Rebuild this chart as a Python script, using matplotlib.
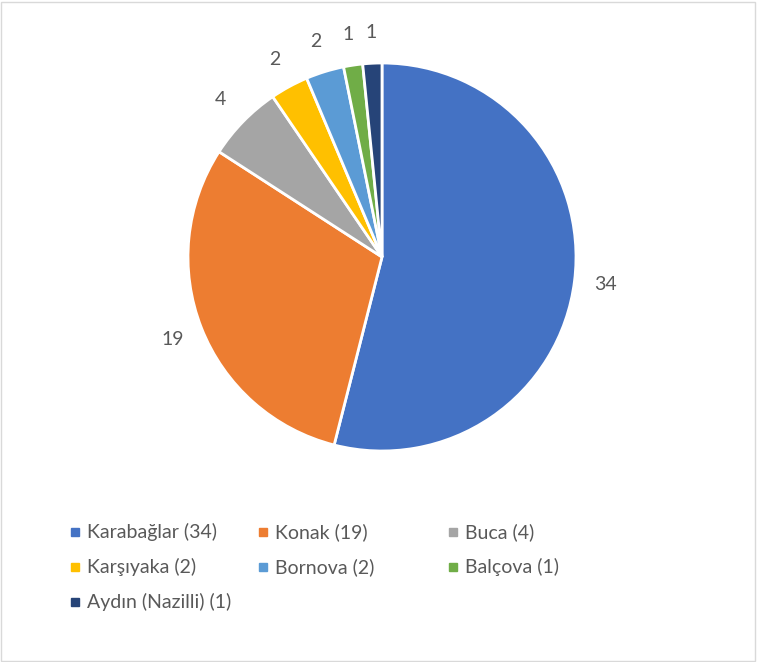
import matplotlib
matplotlib.use("Agg")
import matplotlib.pyplot as plt
from matplotlib.patches import Rectangle

# district counts
districts = ["Karabağlar", "Konak", "Buca", "Karşıyaka", "Bornova", "Balçova", "Aydın (Nazilli)"]
counts = [34, 19, 4, 2, 2, 1, 1]
colors = ["#4472C4", "#ED7D31", "#A5A5A5", "#FFC000", "#5B9BD5", "#70AD47", "#264478"]

W, H = 757, 662
plt.rcParams["font.family"] = ["Lato", "DejaVu Sans"]
text_color = "#595959"

fig = plt.figure(figsize=(W / 100, H / 100), dpi=100)
ax = fig.add_axes([0, 0, 1, 1])

total = sum(counts)
wedges, _, autotexts = ax.pie(
    counts, colors=colors, startangle=90, counterclock=False,
    center=(382, H - 257), radius=194, frame=True,
    autopct=lambda p: f"{round(p * total / 100)}", pctdistance=1.16,
    wedgeprops=dict(edgecolor="white", linewidth=2),
    textprops=dict(color=text_color, fontsize=14),
)
ax.set_xlim(0, W)
ax.set_ylim(0, H)
ax.axis("off")

# legend, three columns
col_x = [75, 263, 453]
row_y = [532, 567, 602]
for i, (name, n, c) in enumerate(zip(districts, counts, colors)):
    x = col_x[i % 3]
    y = H - row_y[i // 3]
    ax.plot([x], [y], marker="s", markersize=5.5, color=c, linestyle="none")
    ax.text(x + 12, y, f"{name} ({n})", color=text_color, fontsize=14,
            ha="left", va="center")

# chart border
ax.add_patch(Rectangle((1, 1), W - 3, H - 3, fill=False, edgecolor="#D9D9D9", linewidth=1))

fig.savefig("out.png", dpi=100)
